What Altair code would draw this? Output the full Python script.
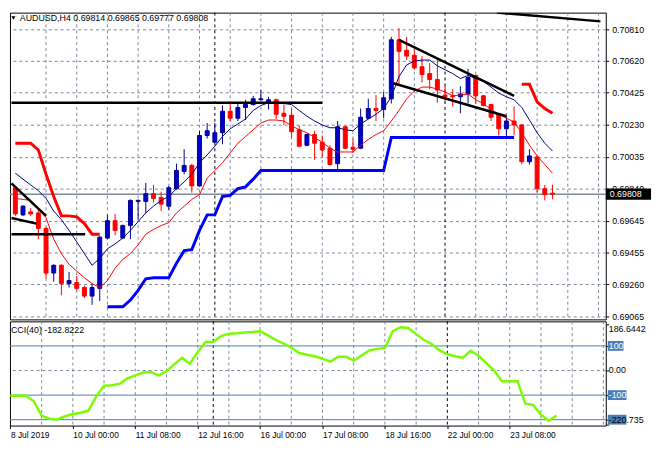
import altair as alt
import pandas as pd

# ---------------- data ----------------
symbol = "AUDUSD,H4"
open_ = [0.69847, 0.69682, 0.69700, 0.69694, 0.69600, 0.69329, 0.69376, 0.69265, 0.69271, 0.69241,
         0.69189, 0.69236, 0.69541, 0.69647, 0.69541, 0.69617, 0.69764, 0.69764, 0.69811, 0.69788,
         0.69735, 0.69841, 0.69946, 0.69982, 0.69858, 0.70164, 0.70123, 0.70181, 0.70311, 0.70269,
         0.70334, 0.70352, 0.70381, 0.70369, 0.70381, 0.70299, 0.70287, 0.70199, 0.70105, 0.70170,
         0.70123, 0.70087, 0.69993, 0.70217, 0.70093, 0.70087, 0.70269, 0.70328, 0.70322, 0.70387,
         0.70745, 0.70681, 0.70651, 0.70581, 0.70540, 0.70504, 0.70410, 0.70405, 0.70399, 0.70416,
         0.70528, 0.70405, 0.70352, 0.70293, 0.70205, 0.70252, 0.70228, 0.70005, 0.70034, 0.69841,
         0.69814]
high_ = [0.69858, 0.69741, 0.69723, 0.69711, 0.69606, 0.69382, 0.69382, 0.69335, 0.69312, 0.69253,
         0.69265, 0.69553, 0.69682, 0.69688, 0.69623, 0.69776, 0.69776, 0.69876, 0.69864, 0.69823,
         0.69858, 0.69993, 0.70081, 0.69993, 0.70193, 0.70240, 0.70240, 0.70346, 0.70358, 0.70363,
         0.70381, 0.70405, 0.70440, 0.70399, 0.70387, 0.70352, 0.70328, 0.70223, 0.70176, 0.70193,
         0.70164, 0.70105, 0.70252, 0.70223, 0.70146, 0.70328, 0.70387, 0.70410, 0.70428, 0.70763,
         0.70816, 0.70763, 0.70687, 0.70646, 0.70604, 0.70634, 0.70469, 0.70446, 0.70463, 0.70569,
         0.70534, 0.70410, 0.70358, 0.70299, 0.70281, 0.70340, 0.70234, 0.70081, 0.70040, 0.69864,
         0.69865]
low_ = [0.69676, 0.69676, 0.69676, 0.69535, 0.69294, 0.69277, 0.69194, 0.69241, 0.69224, 0.69177,
        0.69136, 0.69159, 0.69535, 0.69559, 0.69535, 0.69535, 0.69653, 0.69694, 0.69758, 0.69705,
        0.69711, 0.69835, 0.69929, 0.69817, 0.69852, 0.70146, 0.70123, 0.70111, 0.70252, 0.70252,
        0.70258, 0.70346, 0.70375, 0.70322, 0.70264, 0.70228, 0.70152, 0.70093, 0.70099, 0.70017,
        0.70034, 0.69982, 0.69958, 0.70081, 0.70058, 0.70081, 0.70264, 0.70252, 0.70269, 0.70358,
        0.70469, 0.70622, 0.70563, 0.70487, 0.70446, 0.70363, 0.70369, 0.70340, 0.70299, 0.70358,
        0.70358, 0.70340, 0.70252, 0.70164, 0.70152, 0.70164, 0.69988, 0.69988, 0.69817, 0.69770,
        0.69777]
close_ = [0.69688, 0.69735, 0.69688, 0.69600, 0.69329, 0.69376, 0.69265, 0.69283, 0.69236, 0.69189,
          0.69241, 0.69547, 0.69647, 0.69588, 0.69617, 0.69770, 0.69770, 0.69811, 0.69782, 0.69747,
          0.69847, 0.69952, 0.69982, 0.69858, 0.70164, 0.70193, 0.70181, 0.70311, 0.70269, 0.70334,
          0.70352, 0.70387, 0.70387, 0.70381, 0.70293, 0.70281, 0.70187, 0.70099, 0.70170, 0.70117,
          0.70076, 0.69988, 0.70217, 0.70087, 0.70081, 0.70275, 0.70328, 0.70316, 0.70393, 0.70745,
          0.70675, 0.70646, 0.70575, 0.70534, 0.70504, 0.70440, 0.70399, 0.70399, 0.70416, 0.70516,
          0.70405, 0.70346, 0.70275, 0.70205, 0.70252, 0.70228, 0.70005, 0.70040, 0.69841, 0.69805,
          0.69808]
ma_fast = [0.69935, 0.69899, 0.69864, 0.69829, 0.69782, 0.69705, 0.69653, 0.69588, 0.69518, 0.69447,
           0.69376, 0.69418, 0.69476, 0.69506, 0.69541, 0.69588, 0.69641, 0.69694, 0.69735, 0.69770,
           0.69794, 0.69841, 0.69882, 0.69929, 0.69999, 0.70046, 0.70099, 0.70158, 0.70205, 0.70234,
           0.70264, 0.70316, 0.70346, 0.70363, 0.70363, 0.70358, 0.70352, 0.70316, 0.70281, 0.70252,
           0.70228, 0.70211, 0.70211, 0.70199, 0.70193, 0.70234, 0.70264, 0.70293, 0.70328, 0.70399,
           0.70522, 0.70593, 0.70616, 0.70622, 0.70622, 0.70587, 0.70563, 0.70540, 0.70510, 0.70528,
           0.70510, 0.70493, 0.70458, 0.70422, 0.70399, 0.70381, 0.70334, 0.70258, 0.70181, 0.70117,
           0.70070]
ma_slow = [0.69782, 0.69776, 0.69770, 0.69723, 0.69664, 0.69535, 0.69447, 0.69382, 0.69341, 0.69300,
           0.69265, 0.69241, 0.69283, 0.69359, 0.69412, 0.69447, 0.69500, 0.69565, 0.69594, 0.69617,
           0.69635, 0.69694, 0.69735, 0.69776, 0.69805, 0.69905, 0.69952, 0.69999, 0.70058, 0.70117,
           0.70158, 0.70199, 0.70240, 0.70258, 0.70258, 0.70252, 0.70223, 0.70199, 0.70181, 0.70152,
           0.70123, 0.70087, 0.70064, 0.70064, 0.70064, 0.70105, 0.70140, 0.70170, 0.70193, 0.70252,
           0.70316, 0.70387, 0.70434, 0.70458, 0.70458, 0.70446, 0.70428, 0.70405, 0.70410, 0.70416,
           0.70381, 0.70358, 0.70322, 0.70293, 0.70269, 0.70246, 0.70181, 0.70105, 0.70040, 0.69988,
           0.69935]
stop_up_left_bars = list(range(0, 12))
stop_up_left = [0.70117, 0.70117, 0.70117, 0.70076, 0.69929, 0.69794, 0.69676, 0.69676, 0.69670,
                0.69629, 0.69565, 0.69565]
stop_up_right_bars = list(range(66, 71))
stop_up_right = [0.70475, 0.70475, 0.70369, 0.70328, 0.70299]
stop_dn_bars = list(range(12, 66))
stop_dn = [0.69124, 0.69124, 0.69124, 0.69165, 0.69224, 0.69294, 0.69300, 0.69300, 0.69300, 0.69388,
           0.69465, 0.69471, 0.69588, 0.69682, 0.69682, 0.69794, 0.69800, 0.69841, 0.69852, 0.69899,
           0.69952,
           0.69952, 0.69952, 0.69952, 0.69952, 0.69952, 0.69952, 0.69952, 0.69952,
           0.69952, 0.69952, 0.69952, 0.69952, 0.69952, 0.69952, 0.69952, 0.69952,
           0.70152,
           0.70152, 0.70152, 0.70152, 0.70152, 0.70152, 0.70152, 0.70152, 0.70152,
           0.70152, 0.70152, 0.70152, 0.70152, 0.70152, 0.70152, 0.70152, 0.70152]
cci = [-103, -103, -103, -125, -184, -196, -199, -186, -177, -172,
       -163, -105, -62, -60, -54, -32, -20, -8, -6, -20,
       -3, 25, 52, 28, 75, 116, 116, 140, 150, 152,
       155, 157, 160, 143, 125, 110, 93, 71, 64, 58,
       48, 36, 56, 56, 40, 61, 82, 88, 92, 160,
       176, 173, 148, 124, 108, 82, 67, 58, 52, 80,
       60, 30, 0, -44, -44, -44, -135, -140, -180, -204,
       -182.8222]
cci_last = -182.8222
cci_max = 186.6442
cci_min = -220.735
cci_levels = [100, -100, -200]
cci_level_labels = ["100", "-100", ""]

# drawn trend lines: (bar, price) -> (bar, price)
tl_x1 = [-0.5, -0.5, -0.5, -0.5, 50, 49.25, 62.75]
tl_x2 = [4, 2.75, 9.1, 40, 65, 64, 76.25]
tl_p1 = [0.69874, 0.69663, 0.69565, 0.70363, 0.70745, 0.70481, 0.70910]
tl_p2 = [0.69676, 0.69629, 0.69565, 0.70363, 0.70405, 0.70281, 0.70857]

price_ticks = [0.70810, 0.70620, 0.70425, 0.70230, 0.70035, 0.69840, 0.69645, 0.69455, 0.69260, 0.69065]
time_label_bars = [0, 8, 16, 24, 32, 40, 48, 56, 64]
time_labels = ["8 Jul 2019", "10 Jul 00:00", "11 Jul 08:00", "12 Jul 16:00", "16 Jul 00:00",
               "17 Jul 08:00", "18 Jul 16:00", "22 Jul 00:00", "23 Jul 08:00"]
grid_bars = [4, 8, 12, 16, 20, 24, 28, 32, 36, 40, 44, 48, 52, 60, 64, 68, 72, 76]
week_bars = [26, 56]
last_price = close_[-1]

# ---------------- styling ----------------
W, H1, H2 = 606, 312, 106
FONT = "Liberation Sans"
GRID = "#7b8898"
BULL_FILL, BULL_LINE, BEAR = "#0000cd", "#000090", "#ff0000"

xs = alt.Scale(domain=[-0.06, 76.31], nice=False, zero=False)
ys = alt.Scale(domain=[0.690475, 0.7091], nice=False, zero=False)
cs = alt.Scale(domain=[-224, 200], nice=False, zero=False)

yaxis = alt.Axis(orient="right", values=price_ticks, format=".5f", grid=True, gridColor=GRID,
                 gridDash=[3, 3], gridWidth=1, tickSize=3, tickColor="black", labelPadding=3,
                 labelFont=FONT, labelFontSize=9, labelColor="black", domain=False, title=None,
                 labelOverlap=False)
caxis = alt.Axis(orient="right", values=[cci_max, 100, 0, -100, -200, cci_min], labels=False,
                 tickSize=3, tickColor="black", grid=False, domain=False, title=None)
expr = ""
for b, t in zip(time_label_bars, time_labels):
    expr += f"datum.value == {b} ? '{t}' : "
expr += "''"
xaxis_c = alt.Axis(values=time_label_bars, labelExpr=expr, labelAlign="left", labelBaseline="top",
                   tickSize=3, tickColor="black", labelPadding=2, labelFont=FONT, labelFontSize=8.5,
                   labelColor="black", domain=False, grid=False, title=None, labelFlush=False,
                   labelOverlap=False)

n = len(open_)
cdf = pd.DataFrame({"i": list(range(n)), "o": open_, "h": high_, "l": low_, "c": close_})
cdf["dir"] = ["bull" if c >= o else "bear" for o, c in zip(open_, close_)]
cdf["top"] = cdf[["o", "c"]].max(axis=1)
cdf["bot"] = cdf[["o", "c"]].min(axis=1)

fill_scale = alt.Scale(domain=["bull", "bear"], range=[BULL_FILL, BEAR])
line_scale = alt.Scale(domain=["bull", "bear"], range=[BULL_LINE, BEAR])


def XM(f="i:Q"):
    return alt.X(f, scale=xs, axis=None)


def XC(f="i:Q"):
    return alt.X(f, scale=xs, axis=xaxis_c)


def YP(f):
    return alt.Y(f, scale=ys, axis=yaxis)


def YC(f):
    return alt.Y(f, scale=cs, axis=caxis)


gdf = pd.DataFrame({"g": grid_bars})
wdf = pd.DataFrame({"g": week_bars})

# ---------------- main panel ----------------
grid_m = alt.Chart(gdf).mark_rule(color=GRID, strokeDash=[3, 3], strokeWidth=1).encode(x=XM("g:Q"))
week_m = alt.Chart(wdf).mark_rule(color="black", strokeDash=[3, 3], strokeWidth=1).encode(x=XM("g:Q"))
lp = pd.DataFrame({"p": [last_price]})
last_line = alt.Chart(lp).mark_rule(color="#7f8a96", strokeWidth=1.5).encode(y=YP("p:Q"))

wick = alt.Chart(cdf).mark_rule(strokeWidth=1, clip=True).encode(
    x=XM(), y=YP("l:Q"), y2="h:Q", color=alt.Color("dir:N", scale=line_scale, legend=None))
body = alt.Chart(cdf).mark_bar(size=4, strokeWidth=1, clip=True).encode(
    x=XM(), y=YP("bot:Q"), y2="top:Q",
    fill=alt.Fill("dir:N", scale=fill_scale, legend=None),
    stroke=alt.Stroke("dir:N", scale=line_scale, legend=None))

mdf = pd.DataFrame({"i": list(range(n)), "fast": ma_fast, "slow": ma_slow})
fast = alt.Chart(mdf).mark_line(color="#000080", strokeWidth=1, clip=True).encode(x=XM(), y=YP("fast:Q"))
slow = alt.Chart(mdf).mark_line(color="#ff0000", strokeWidth=1, clip=True).encode(x=XM(), y=YP("slow:Q"))

updf = pd.DataFrame({"i": stop_up_left_bars + stop_up_right_bars,
                     "v": stop_up_left + stop_up_right,
                     "seg": ["a"] * len(stop_up_left) + ["b"] * len(stop_up_right)})
up = alt.Chart(updf).mark_line(color="#ff0000", strokeWidth=3, clip=True).encode(
    x=XM(), y=YP("v:Q"), detail="seg:N")
dndf = pd.DataFrame({"i": stop_dn_bars, "v": stop_dn})
dn = alt.Chart(dndf).mark_line(color="#0000ff", strokeWidth=3, clip=True).encode(x=XM(), y=YP("v:Q"))

tdf = pd.DataFrame({"x1": tl_x1, "x2": tl_x2, "p1": tl_p1, "p2": tl_p2})
trend = alt.Chart(tdf).mark_rule(color="black", strokeWidth=2.5, clip=True).encode(
    x=XM("x1:Q"), x2="x2:Q", y=YP("p1:Q"), y2="p2:Q")

title_txt = f"{symbol} {open_[-1]:.5f} {high_[-1]:.5f} {low_[-1]:.5f} {close_[-1]:.5f}"
title = alt.Chart(pd.DataFrame({"t": [title_txt]})).mark_text(
    align="left", baseline="middle", font=FONT, fontSize=9, color="black").encode(
    x=alt.value(10), y=alt.value(6), text="t:N")
tri = alt.Chart(pd.DataFrame({"t": [0]})).mark_point(
    shape="triangle-down", filled=True, size=18, color="black", opacity=1).encode(
    x=alt.value(3.5), y=alt.value(5.5))

pbox = alt.Chart(lp).mark_point(shape="M0,-0.25H2V0.25H0Z", size=2116, filled=True,
                                color="black", opacity=1, strokeWidth=0).encode(
    x=alt.value(W), y=YP("p:Q"))
ptext = alt.Chart(lp).mark_text(align="left", baseline="middle", font=FONT, fontSize=9,
                                color="white").encode(
    x=alt.value(W + 4), y=YP("p:Q"), text=alt.Text("p:Q", format=".5f"))

main = alt.layer(grid_m, week_m, last_line, wick, body, dn, up, slow, fast, trend,
                 title, tri, pbox, ptext).properties(width=W, height=H1)

# ---------------- CCI panel ----------------
grid_c = alt.Chart(gdf).mark_rule(color=GRID, strokeDash=[3, 3], strokeWidth=1).encode(x=XC("g:Q"))
week_c = alt.Chart(wdf).mark_rule(color="black", strokeDash=[3, 3], strokeWidth=1).encode(x=XC("g:Q"))
zero = alt.Chart(pd.DataFrame({"z": [0]})).mark_rule(color=GRID, strokeDash=[3, 3], strokeWidth=1).encode(
    y=YC("z:Q"))
ldf = pd.DataFrame({"v": cci_levels, "lab": cci_level_labels,
                    "shape": ["M0,-1H3.2V1H0Z" if v > 0 else "M0,-1H3.8V1H0Z" for v in cci_levels]})
levels = alt.Chart(ldf).mark_rule(color="#4a7fb5", strokeWidth=1).encode(y=YC("v:Q"))
ccdf = pd.DataFrame({"i": list(range(n)), "cci": cci})
cci_line = alt.Chart(ccdf).mark_line(color="#7cfc00", strokeWidth=2.5, clip=True).encode(
    x=XC(), y=YC("cci:Q"))
cci_title = alt.Chart(pd.DataFrame({"t": [f"CCI(40) {cci_last:.4f}"]})).mark_text(
    align="left", baseline="middle", font=FONT, fontSize=9, color="black").encode(
    x=alt.value(1), y=alt.value(9), text="t:N")
lbox = alt.Chart(ldf).mark_point(size=100, filled=True, color="#4a7fb5", opacity=1, strokeWidth=0).encode(
    x=alt.value(W + 2), y=YC("v:Q"), shape=alt.Shape("shape:N", scale=None, legend=None))
lbox_t = alt.Chart(ldf[ldf["lab"] != ""]).mark_text(align="left", baseline="middle", font=FONT,
                                                    fontSize=9, color="white").encode(
    x=alt.value(W + 3), y=YC("v:Q"), text="lab:N")
rtop = alt.Chart(pd.DataFrame({"v": [cci_max], "t": [f"{cci_max:.4f}"]})).mark_text(
    align="left", baseline="top", font=FONT, fontSize=9, color="black").encode(
    x=alt.value(W + 3), y=YC("v:Q"), text="t:N")
rzero = alt.Chart(pd.DataFrame({"v": [0], "t": ["0.00"]})).mark_text(
    align="left", baseline="middle", font=FONT, fontSize=9, color="black").encode(
    x=alt.value(W + 3), y=YC("v:Q"), text="t:N")
rmin = alt.Chart(pd.DataFrame({"v": [cci_min], "t": [f"{cci_min:.3f}"]})).mark_text(
    align="left", baseline="bottom", font=FONT, fontSize=9, color="black").encode(
    x=alt.value(W + 3), y=YC("v:Q"), text="t:N")

cci_chart = alt.layer(grid_c, week_c, zero, levels, cci_line, cci_title, lbox, lbox_t,
                      rtop, rzero, rmin).properties(width=W, height=H2)

chart = alt.vconcat(main, cci_chart, spacing=2, bounds="flush").properties(
    padding=0, background="white").configure_view(stroke="black", strokeWidth=1)

chart.save("out.html", embed_options={"renderer": "svg", "actions": False})
